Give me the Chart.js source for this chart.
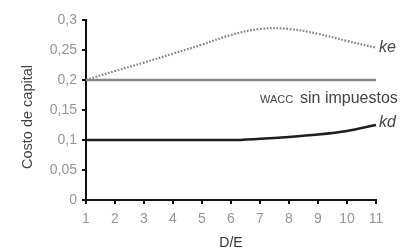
<!DOCTYPE html>
<html>
<head>
<meta charset="utf-8">
<script src="https://cdn.jsdelivr.net/npm/chart.js"></script>
<style>
    html, body { margin: 0; padding: 0; background: #fff; }
    #wrap { width: 403px; height: 252px; }
</style>
</head>
<body>
<div id="wrap"><canvas id="chart"></canvas></div>
<script>
    // D/E ratio on the x axis
    const debtEquity = ['1', '2', '3', '4', '5', '6', '7', '8', '9', '10', '11'];
    // cost of equity (dotted)
    const ke = [0.2, 0.215, 0.229, 0.244, 0.259, 0.275, 0.285, 0.285, 0.277, 0.265, 0.254];
    // WACC without taxes (flat)
    const wacc = [0.2, 0.2, 0.2, 0.2, 0.2, 0.2, 0.2, 0.2, 0.2, 0.2, 0.2];
    // cost of debt
    const kd = [0.1, 0.1, 0.1, 0.1, 0.1, 0.1, 0.102, 0.105, 0.109, 0.115, 0.125];
    const yTickLabels = { 0: '0', 0.05: '0,05', 0.1: '0,1', 0.15: '0,15', 0.2: '0,2', 0.25: '0,25', 0.3: '0,3' };

    const FONT = "'Liberation Sans', Arial, sans-serif";

    // line names at the right-hand end of the lines, plus the y axis title
    const endLabels = {
        id: 'endLabels',
        afterDraw(chart) {
            const ctx = chart.ctx;
            const x = chart.scales.x;
            const y = chart.scales.y;
            const right = x.getPixelForValue(debtEquity.length - 1);
            ctx.save();
            ctx.fillStyle = '#444';
            ctx.textBaseline = 'alphabetic';
            ctx.font = 'italic 16px ' + FONT;
            ctx.fillText('ke', right + 3, y.getPixelForValue(ke[ke.length - 1]) + 4);
            ctx.fillText('kd', right + 3, y.getPixelForValue(kd[kd.length - 1]) + 2);
            // "WACC" in small caps, then the rest
            const base = y.getPixelForValue(0.2) + 23;
            ctx.font = '11px ' + FONT;
            ctx.fillText('WACC', 260, base);
            ctx.font = '16px ' + FONT;
            ctx.fillText('sin impuestos', 300, base);
            // y axis title
            ctx.translate(28, 117);
            ctx.rotate(-Math.PI / 2);
            ctx.textAlign = 'center';
            ctx.textBaseline = 'middle';
            ctx.font = '14.5px ' + FONT;
            ctx.fillText('Costo de capital', 0, 0);
            ctx.restore();
        }
    };

    new Chart(document.getElementById('chart'), {
        type: 'line',
        data: {
            labels: debtEquity,
            datasets: [
                {
                    label: 'ke',
                    data: ke,
                    borderColor: '#858585',
                    borderWidth: 2.2,
                    borderDash: [1.7, 1.6],
                    tension: 0.4,
                    pointRadius: 0
                },
                {
                    label: 'WACC sin impuestos',
                    data: wacc,
                    borderColor: '#858585',
                    borderWidth: 2.5,
                    pointRadius: 0
                },
                {
                    label: 'kd',
                    data: kd,
                    borderColor: '#1e1e1e',
                    borderWidth: 2.5,
                    cubicInterpolationMode: 'monotone',
                    pointRadius: 0
                }
            ]
        },
        options: {
            responsive: true,
            maintainAspectRatio: false,
            animation: false,
            layout: { padding: { left: 0, right: 27, top: 20, bottom: 0 } },
            plugins: {
                legend: { display: false },
                tooltip: { enabled: false }
            },
            scales: {
                x: {
                    offset: false,
                    grid: { display: true, drawOnChartArea: false, drawTicks: true, tickLength: 4, color: '#111', lineWidth: 2 },
                    border: { display: true, color: '#111', width: 2 },
                    ticks: { color: '#959595', font: { family: FONT, size: 14 }, padding: 7, maxRotation: 0, autoSkip: false },
                    title: { display: true, text: 'D/E', color: '#333', font: { family: FONT, size: 14 }, padding: { top: 0, bottom: 0 } },
                    afterFit(scale) { scale.height = 52; }
                },
                y: {
                    min: 0,
                    max: 0.3,
                    grid: { display: true, drawOnChartArea: false, drawTicks: true, tickLength: 4, color: '#111', lineWidth: 2 },
                    border: { display: true, color: '#111', width: 2 },
                    ticks: {
                        stepSize: 0.05,
                        color: '#959595',
                        font: { family: FONT, size: 14 },
                        padding: 5,
                        callback: v => yTickLabels[Math.round(v * 100) / 100]
                    },
                    afterFit(scale) { scale.width = 86; }
                }
            }
        },
        plugins: [endLabels]
    });
</script>
</body>
</html>
